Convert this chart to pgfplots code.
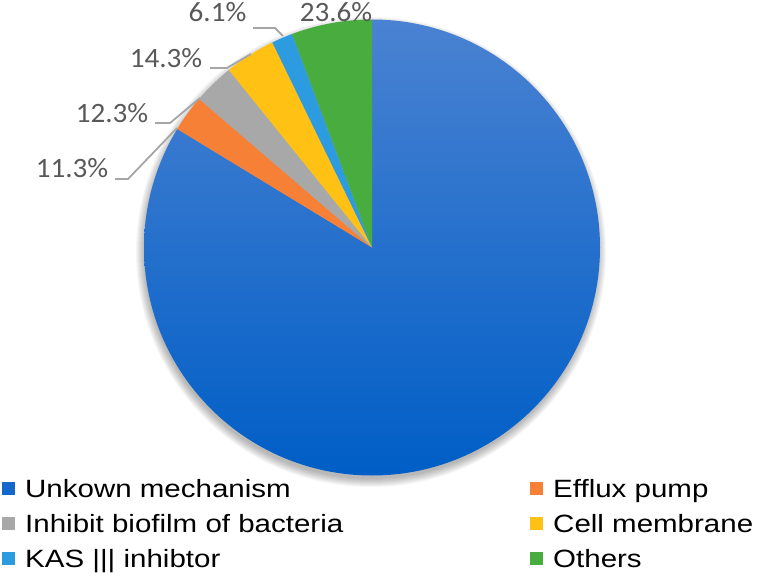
\documentclass[border=0pt]{standalone}
\usepackage{pgfplots}
\usepackage{pgfplotstable}
\pgfplotsset{compat=1.18}
\usepackage{fontspec}
\setmainfont{Liberation Sans}
\newfontfamily\calib{Carlito}
\usepackage{graphicx}

\definecolor{cBlueTop}{RGB}{74,130,210}
\definecolor{cBlueBot}{RGB}{0,94,198}
\definecolor{cBlue}{RGB}{20,104,204}
\definecolor{cOrange}{RGB}{246,128,54}
\definecolor{cGray}{RGB}{168,168,168}
\definecolor{cYellow}{RGB}{255,194,20}
\definecolor{cLBlue}{RGB}{44,155,224}
\definecolor{cGreen}{RGB}{72,172,62}
\definecolor{cLabel}{RGB}{89,89,89}
\definecolor{cLeader}{RGB}{166,166,166}

% slice shares (percent of the full circle)
\pgfplotstableread{
name value
Unknown 83.7
Efflux 2.6
Biofilm 2.9
Membrane 3.6
KAS 1.5
Others 5.7
}\piedata

\newcommand\sliceangle[3]{%
  \pgfplotstablegetelem{#1}{value}\of\piedata
  \pgfmathsetmacro#3{#2-\pgfplotsretval*3.6}}

\pgfmathsetmacro\aO{90}
\sliceangle{0}{\aO}{\aA}
\sliceangle{1}{\aA}{\aB}
\sliceangle{2}{\aB}{\aC}
\sliceangle{3}{\aC}{\aD}
\sliceangle{4}{\aD}{\aE}
\sliceangle{5}{\aE}{\aF}

\begin{document}%
\begin{tikzpicture}
\begin{axis}[at={(0,0)}, anchor=south west, scale only axis,
  width=757pt, height=576pt, xmin=0, xmax=757, ymin=0, ymax=576,
  hide axis, clip=false]
% soft shadow
\pgfplotsinvokeforeach{1,...,9}{
  \fill[black, opacity=0.035] (axis cs:371,324) circle[radius=226pt+#1pt];
}
% slices
\shade[top color=cBlueTop, bottom color=cBlueBot]
  (axis cs:372,328.5) -- ++(\aO:228pt) arc[start angle=\aO, end angle=\aA, radius=228pt] -- cycle;
\fill[cOrange] (axis cs:372,328.5) -- ++(\aA:228pt) arc[start angle=\aA, end angle=\aB, radius=228pt] -- cycle;
\fill[cGray] (axis cs:372,328.5) -- ++(\aB:228pt) arc[start angle=\aB, end angle=\aC, radius=228pt] -- cycle;
\fill[cYellow] (axis cs:372,328.5) -- ++(\aC:228pt) arc[start angle=\aC, end angle=\aD, radius=228pt] -- cycle;
\fill[cLBlue] (axis cs:372,328.5) -- ++(\aD:228pt) arc[start angle=\aD, end angle=\aE, radius=228pt] -- cycle;
\fill[cGreen] (axis cs:372,328.5) -- ++(\aE:228pt) arc[start angle=\aE, end angle=\aF, radius=228pt] -- cycle;

% leader lines
\draw[cLeader, line width=1.8pt] (axis cs:253,548) -- (axis cs:275,548) -- (axis cs:283,540);
\draw[cLeader, line width=1.8pt] (axis cs:210,508) -- (axis cs:227,508) -- (axis cs:251,522);
\draw[cLeader, line width=1.8pt] (axis cs:155,453) -- (axis cs:170,453) -- (axis cs:200,478);
\draw[cLeader, line width=1.8pt] (axis cs:115,397) -- (axis cs:128,397) -- (axis cs:177,448);

% data labels
\begin{scope}[every node/.style={anchor=base, text=cLabel, inner sep=0pt,
    font=\calib\fontsize{28}{32}\selectfont}]
\node at (axis cs:336,554) {\scalebox{1.04}[1]{23.6\%}};
\node at (axis cs:217.5,554) {\scalebox{1.04}[1]{6.1\%}};
\node at (axis cs:166,508) {\scalebox{1.04}[1]{14.3\%}};
\node at (axis cs:112,453) {\scalebox{1.04}[1]{12.3\%}};
\node at (axis cs:72,398) {\scalebox{1.04}[1]{11.3\%}};
\end{scope}

% legend
\fill[cBlue] (axis cs:2,81) rectangle (axis cs:15,94);
\fill[cGray] (axis cs:2,46) rectangle (axis cs:15,59);
\fill[cLBlue] (axis cs:2,11) rectangle (axis cs:15,24);
\fill[cOrange] (axis cs:530,81) rectangle (axis cs:543,94);
\fill[cYellow] (axis cs:530,46) rectangle (axis cs:543,59);
\fill[cGreen] (axis cs:530,11) rectangle (axis cs:543,24);
\begin{scope}[every node/.style={anchor=base west, inner sep=0pt,
    font=\fontsize{25}{30}\selectfont}]
\node at (axis cs:25,79) {\scalebox{1.18}[1]{Unkown mechanism}};
\node at (axis cs:25,44) {\scalebox{1.18}[1]{Inhibit biofilm of bacteria}};
\node at (axis cs:25,9) {\scalebox{1.18}[1]{KAS ||| inhibtor}};
\node at (axis cs:553,79) {\scalebox{1.18}[1]{Efflux pump}};
\node at (axis cs:553,44) {\scalebox{1.18}[1]{Cell membrane}};
\node at (axis cs:553,9) {\scalebox{1.18}[1]{Others}};
\end{scope}
\end{axis}
\pgfresetboundingbox
\path[use as bounding box] (0,0) rectangle (757pt,576pt);
\end{tikzpicture}%
\end{document}
